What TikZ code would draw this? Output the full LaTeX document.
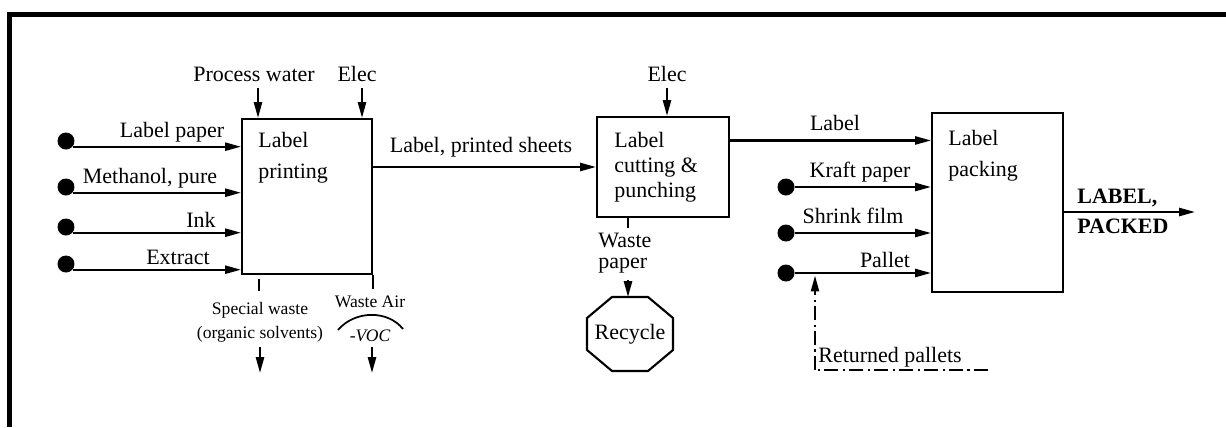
\documentclass[tikz,border=0pt]{standalone}
\usepackage{fontspec}
\setmainfont{Liberation Serif}
\usetikzlibrary{arrows.meta, calc}
\tikzset{
  frame/.style    = {line width=2.3pt},
  procbox/.style  = {rectangle, draw, line width=1.2pt, inner sep=0pt},
  boxtext/.style  = {anchor=north west, align=left, inner sep=0pt},
  lbl/.style      = {anchor=base, inner sep=0pt, font=\fontsize{12.5}{14}\selectfont},
  smalllbl/.style = {anchor=base, inner sep=0pt, font=\fontsize{10}{12}\selectfont},
  srcdot/.style   = {circle, fill, inner sep=0pt, minimum size=0.34cm},
  flow/.style     = {-{Triangle[length=9pt, width=4.6pt]}, line width=1.2pt},
  plain/.style    = {line width=1.2pt},
  retline/.style  = {line width=1.1pt, dash pattern=on 8pt off 2.5pt on 1.2pt off 2.5pt},
}
\begin{document}
\begin{tikzpicture}[x=0.02cm, y=-0.02cm]
  \useasboundingbox (0,0) rectangle (1226,427);
  \draw[frame] (9.5,427) -- (9.5,14.5) -- (1226,14.5);

  % process boxes
  \node[procbox, minimum width=2.6cm, minimum height=3.1cm] (print) at (307,196.5) {};
  \node[boxtext, font=\fontsize{12.5}{17.6}\selectfont] (printtxt) at (258,132) {Label\\printing};
  \node[procbox, minimum width=2.64cm, minimum height=2cm] (cut) at (663,167) {};
  \node[boxtext, font=\fontsize{12.5}{14.2}\selectfont] (cuttxt) at (614,132) {Label\\cutting \&\\punching};
  \node[procbox, minimum width=2.62cm, minimum height=3.58cm] (pack) at (997.5,202.5) {};
  \node[boxtext, font=\fontsize{12.5}{17.6}\selectfont] (packtxt) at (948,130) {Label\\packing};

  % inputs to printing
  \node[srcdot] (src1) at (66,141) {};
  \node[srcdot] (src2) at (66,187) {};
  \node[srcdot] (src3) at (66,227) {};
  \node[srcdot] (src4) at (66,264) {};
  \draw[flow] (src1.-40) -- (src1.-40 -| print.west);
  \draw[flow] (src2.-40) -- (src2.-40 -| print.west);
  \draw[flow] (src3.-40) -- (src3.-40 -| print.west);
  \draw[flow] (src4.-40) -- (src4.-40 -| print.west);
  \node[lbl] (lpaper) at (172,137) {Label paper};
  \node[lbl] (methanol) at (150,183) {Methanol, pure};
  \node[lbl] (ink) at (201,227) {Ink};
  \node[lbl] (extract) at (178,264) {Extract};

  \coordinate (pwin) at (258,88);
  \coordinate (elec1) at (362,88);
  \draw[flow] (pwin) -- (pwin |- print.north);
  \draw[flow] (elec1) -- (elec1 |- print.north);
  \node[lbl] (pwtxt) at (254,81) {Process water};
  \node[lbl] (elec1txt) at (357,81) {Elec};

  % outputs of printing
  \draw[plain] (print.south east) -- ++(0,14);
  \draw[plain] ($(print.south west)+(18,4)$) -- ++(0,12);
  \node[inner sep=0pt, anchor=north, align=center, font=\fontsize{10}{13.6}\selectfont] (swtxt) at (260,302) {Special waste\\(organic solvents)};
  \node[smalllbl] (watxt) at (370,307) {Waste Air};
  \draw[line width=1pt] (338,330) .. controls (355,310) and (388,310) .. (403,329);
  \node[smalllbl, font=\fontsize{10}{12}\selectfont\itshape] (voc) at (370,341) {-VOC};
  \coordinate (swout) at (260,347);
  \coordinate (vocout) at (372,347);
  \draw[flow] (swout) -- ++(0,26);
  \draw[flow] (vocout) -- ++(0,26);

  % printing to cutting
  \draw[flow] (print.east |- cut.west) -- (cut.west);
  \node[lbl] (sheets) at (481,152) {Label, printed sheets};
  \coordinate (elec2) at (667,88);
  \draw[flow] (elec2) -- (elec2 |- cut.north);
  \node[lbl] (elec2txt) at (667,81) {Elec};

  % waste paper to recycling
  \draw[plain] (cut.south -| 628,0) -- ++(0,10);
  \node[boxtext, font=\fontsize{12.5}{12}\selectfont] (wptxt) at (598,233) {Waste\\paper};
  \node[lbl, anchor=center] (recycle) at (630,334) {Recycle};
  \draw[plain] ($(recycle)+(-18,-37)$) -- ($(recycle)+(18,-37)$) -- ($(recycle)+(43,-16)$)
    -- ($(recycle)+(43,16)$) -- ($(recycle)+(18,37)$) -- ($(recycle)+(-18,37)$)
    -- ($(recycle)+(-43,16)$) -- ($(recycle)+(-43,-16)$) -- cycle;
  \coordinate (octtop) at ($(recycle)+(-2,-37)$);
  \draw[flow] ($(octtop)+(0,-17)$) -- (octtop);

  % cutting to packing
  \coordinate (cutout) at ($(cut.north east)!0.24!(cut.south east)$);
  \draw[flow] (cutout) -- (cutout -| pack.west);
  \node[lbl] (labeltxt) at (835,130) {Label};
  \node[srcdot] (src5) at (786,187) {};
  \node[srcdot] (src6) at (786,233) {};
  \node[srcdot] (src7) at (786,273) {};
  \draw[flow] (src5.east) -- (src5.east -| pack.west);
  \draw[flow] (src6.east) -- (src6.east -| pack.west);
  \draw[flow] (src7.east) -- (src7.east -| pack.west);
  \node[lbl] (kraft) at (860,177) {Kraft paper};
  \node[lbl] (shrink) at (853,223) {Shrink film};
  \node[lbl] (pallet) at (885,267) {Pallet};

  % returned pallets
  \coordinate (retc) at (815,370);
  \coordinate (rete) at (988,370);
  \draw[retline] (rete) -- (retc);
  \draw[retline, -{Triangle[length=9pt, width=4.6pt]}, shorten >=1.5pt] (retc) -- (retc |- src7);
  \node[lbl, anchor=base west] (rettxt) at (818,362) {Returned pallets};

  % final product
  \coordinate (outend) at (1195,212);
  \draw[flow] (outend -| pack.east) -- (outend);
  \node[boxtext, font=\fontsize{12.5}{17}\selectfont\bfseries] (prodtxt) at (1077,189) {LABEL,\\PACKED};
\end{tikzpicture}
\end{document}
